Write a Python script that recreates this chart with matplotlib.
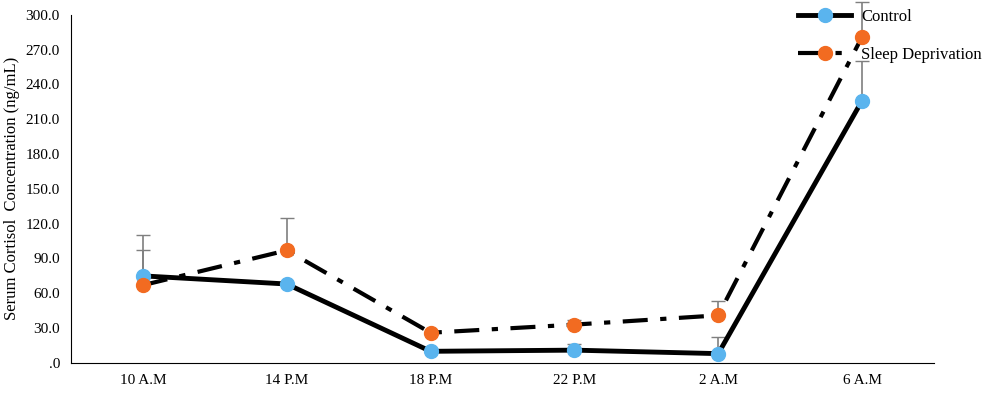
import matplotlib
matplotlib.use("Agg")
import matplotlib.pyplot as plt

categories = ["10 A.M", "14 P.M", "18 P.M", "22 P.M", "2 A.M", "6 A.M"]
control = [75, 68, 10, 11, 8, 226]
control_err = [22, 0, 0, 5, 14, 34]
sleep = [67, 97, 26, 33, 41, 281]
sleep_err = [43, 28, 0, 4, 12, 30]

plt.rcParams['font.family'] = ['Liberation Serif', 'DejaVu Serif']
fig = plt.figure(figsize=(10, 4.11), dpi=100)
ax = fig.add_axes([0.071, 0.117, 0.863, 0.847])
x = range(len(categories))
for vals, err in [(control, control_err), (sleep, sleep_err)]:
    eb = ax.errorbar(x, vals, yerr=[[0]*6, err], fmt='none', ecolor='#7f7f7f', elinewidth=1.2, capsize=5, zorder=1)
    for art in eb.lines[1] + eb.lines[2]:
        art.set_clip_on(False)
ax.plot(x, control, color='black', lw=3.5, marker='o', ms=10, mfc='#5ab4ee', mec='#5ab4ee', label='Control', zorder=3, clip_on=False)
ax.plot(x, sleep, color='black', lw=3, ls=(0, (6, 3, 1.5, 3)), marker='o', ms=10, mfc='#f26b21', mec='#f26b21', label='Sleep Deprivation', zorder=4, clip_on=False)
ax.set_xlim(-0.5, 5.5)
ax.set_ylim(0, 300)
ax.set_yticks(range(0, 301, 30))
ax.set_yticklabels([".0"] + [f"{v}.0" for v in range(30, 301, 30)])
ax.set_xticks(list(x))
ax.set_xticklabels(categories)
ax.tick_params(labelsize=11, length=0, pad=8)
ax.set_ylabel("Serum Cortisol  Concentration (ng/mL)", fontsize=12)
for s in ['top', 'right']:
    ax.spines[s].set_visible(False)
ax.legend(loc='upper left', bbox_to_anchor=(0.825, 1.06), frameon=False, fontsize=12, handlelength=3.2, labelspacing=1.3, handletextpad=0.6)
fig.savefig("out.png")
